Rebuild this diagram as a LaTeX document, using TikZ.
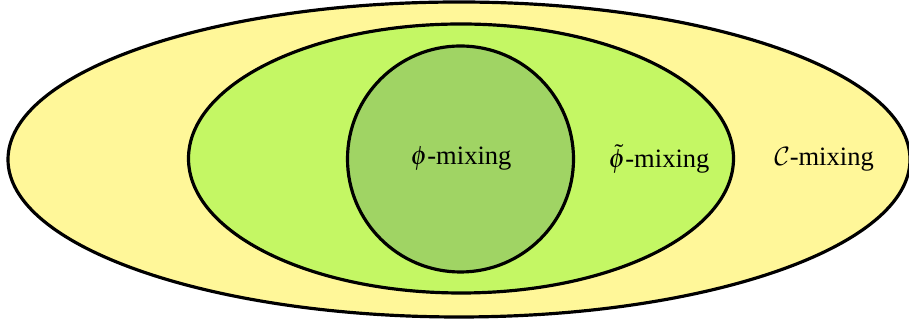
\documentclass[tikz,border=0pt]{standalone}
\usepackage{mathptmx}
\DeclareMathAlphabet{\mathcal}{OMS}{cmsy}{m}{n}
\usepackage{fontspec}
\setmainfont{Liberation Serif}
\definecolor{cmixfill}{RGB}{255,247,153}
\definecolor{tmixfill}{RGB}{196,247,100}
\definecolor{pmixfill}{RGB}{160,212,100}
\tikzset{setline/.style={line width=1.2pt, draw=black}}
\begin{document}
\begin{tikzpicture}[x=0.377pt, y=-0.377pt, line join=round, line cap=round, font=\normalsize]
	\useasboundingbox (0,0) rectangle (909,328);
	\path (459,159.5) coordinate (O_C)
		(461,158.5) coordinate (O_T)
		(460.5,159) coordinate (O_P);
	\draw[setline, fill=cmixfill] (O_C) ellipse[x radius=451, y radius=157.5];
	\draw[setline, fill=tmixfill] (O_T) ellipse[x radius=272.5, y radius=134.5];
	\draw[setline, fill=pmixfill] (O_P) circle[radius=113];
	\node (phi) at (461,159) {$\phi$-mixing};
	\node (phitilde) at (659,159) {$\tilde{\phi}$-mixing};
	\node (cmix) at (824,159) {$\mathcal{C}$-mixing};
\end{tikzpicture}
\end{document}
